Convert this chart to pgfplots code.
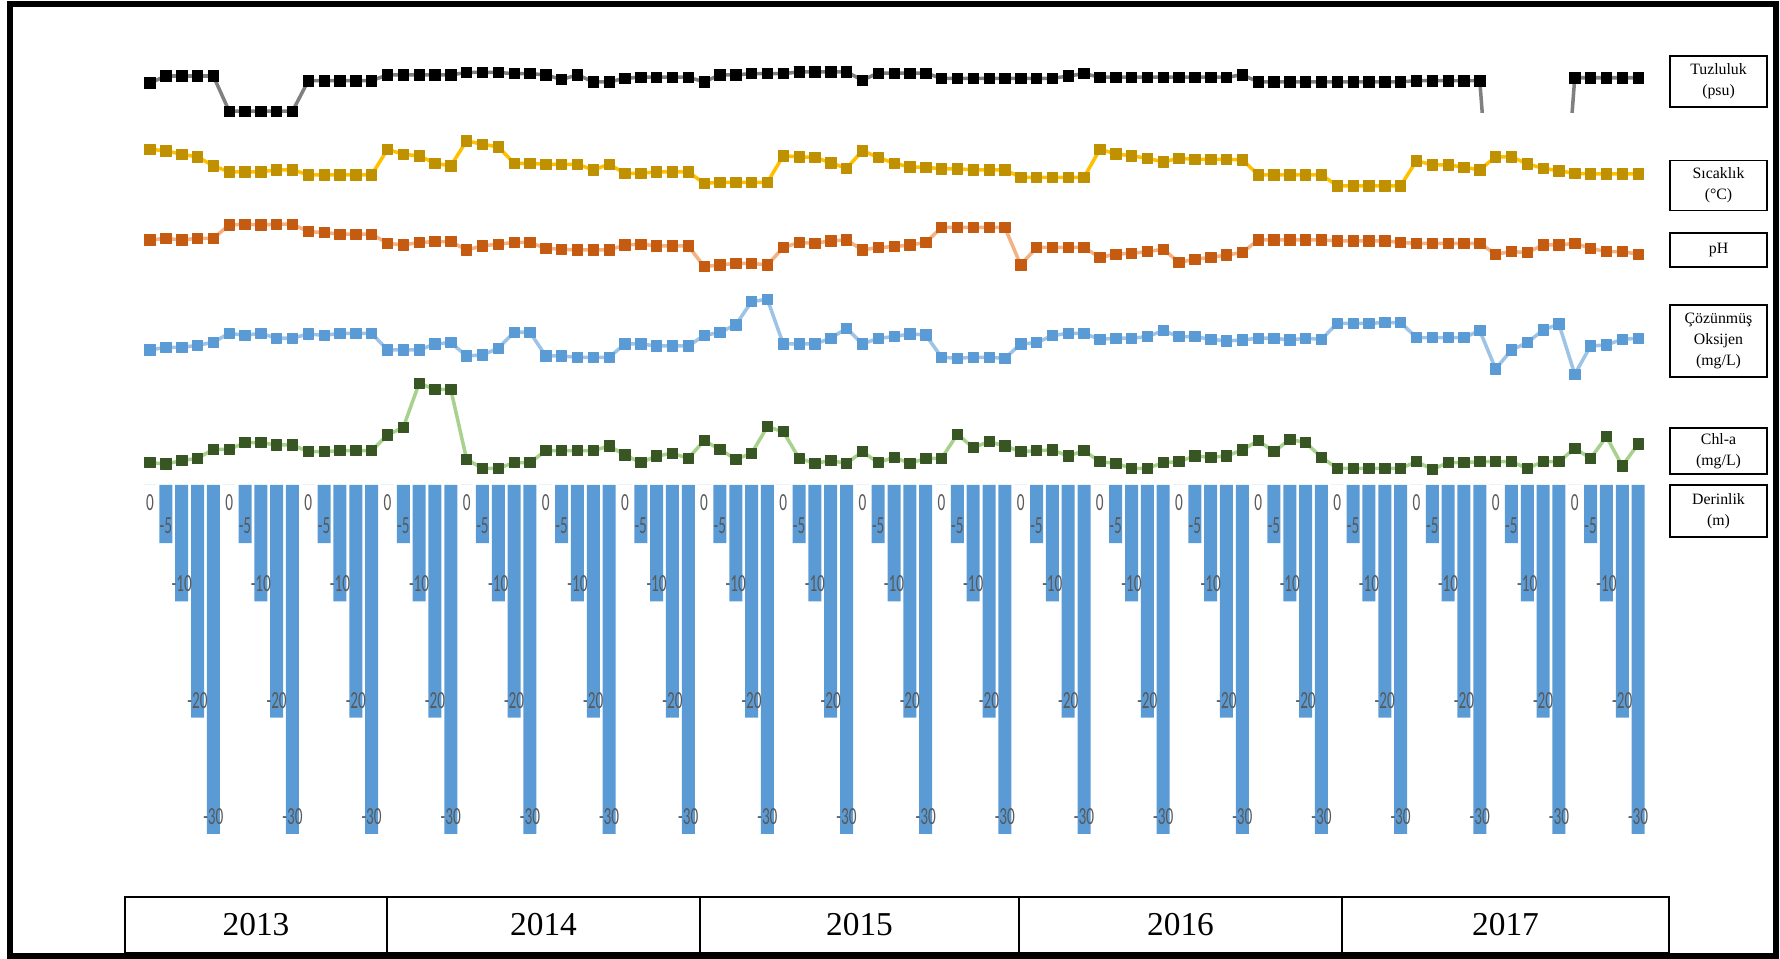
\documentclass[border=0pt]{standalone}
\usepackage{pgfplots}
\pgfplotsset{compat=1.18}
\usepackage{pgfplotstable}
\usepackage{fontspec}
\setmainfont{Liberation Serif}
\newfontfamily\barfont[FakeStretch=0.62]{Carlito}
\definecolor{salline}{HTML}{808080}
\definecolor{tempmark}{HTML}{BF9000}
\definecolor{templine}{HTML}{FFC000}
\definecolor{phmark}{HTML}{C55A11}
\definecolor{phline}{HTML}{F4B183}
\definecolor{domark}{HTML}{5B9BD5}
\definecolor{doline}{HTML}{9DC3E6}
\definecolor{chlmark}{HTML}{375623}
\definecolor{chlline}{HTML}{A9D18E}
\definecolor{barblue}{HTML}{5B9BD5}
\definecolor{labgray}{HTML}{595959}

\pgfplotstableread{
i depth sal temp ph do chl
0 0 17.4 14.8 8.30 7.20 0.42
1 -5 18.0 14.5 8.32 7.40 0.38
2 -10 18.0 13.8 8.30 7.40 0.48
3 -20 18.0 13.3 8.32 7.55 0.55
4 -30 18.0 11.5 8.32 7.78 0.82
5 0 15.0 10.3 8.48 8.45 0.82
6 -5 15.0 10.3 8.49 8.30 1.02
7 -10 15.0 10.3 8.48 8.45 1.02
8 -20 15.0 10.7 8.49 8.08 0.95
9 -30 15.0 10.7 8.49 8.08 0.95
10 0 17.6 9.7 8.40 8.40 0.75
11 -5 17.6 9.7 8.39 8.30 0.75
12 -10 17.6 9.7 8.37 8.45 0.78
13 -20 17.6 9.7 8.37 8.45 0.78
14 -30 17.6 9.7 8.37 8.45 0.78
15 0 18.1 14.8 8.26 7.20 1.25
16 -5 18.1 13.8 8.24 7.20 1.48
17 -10 18.1 13.5 8.27 7.20 2.80
18 -20 18.1 12.0 8.28 7.65 2.62
19 -30 18.1 11.5 8.28 7.75 2.62
20 0 18.3 16.5 8.18 6.75 0.52
21 -5 18.3 15.8 8.23 6.83 0.25
22 -10 18.3 15.3 8.25 7.33 0.25
23 -20 18.2 12.0 8.27 8.53 0.42
24 -30 18.2 12.0 8.27 8.53 0.42
25 0 18.1 11.8 8.20 6.75 0.78
26 -5 17.7 11.8 8.19 6.75 0.78
27 -10 18.1 11.8 8.18 6.65 0.78
28 -20 17.5 10.7 8.18 6.65 0.78
29 -30 17.5 11.8 8.18 6.65 0.92
30 0 17.8 10.0 8.24 7.65 0.65
31 -5 17.9 10.0 8.25 7.65 0.42
32 -10 17.9 10.3 8.23 7.50 0.62
33 -20 17.9 10.3 8.23 7.50 0.70
34 -30 17.9 10.3 8.23 7.50 0.55
35 0 17.5 8.0 7.98 8.28 1.08
36 -5 18.1 8.2 8.00 8.53 0.82
37 -10 18.1 8.2 8.02 9.08 0.52
38 -20 18.2 8.2 8.02 10.83 0.70
39 -30 18.2 8.2 8.00 11.00 1.50
40 0 18.2 13.5 8.21 7.65 1.35
41 -5 18.35 13.3 8.27 7.65 0.55
42 -10 18.35 13.2 8.26 7.65 0.40
43 -20 18.35 12.1 8.29 8.08 0.48
44 -30 18.35 11.0 8.30 8.83 0.40
45 0 17.65 14.5 8.18 7.65 0.75
46 -5 18.25 13.2 8.21 8.08 0.42
47 -10 18.25 12.0 8.22 8.20 0.58
48 -20 18.25 11.3 8.24 8.40 0.40
49 -30 18.25 11.2 8.27 8.33 0.55
50 0 17.8 10.9 8.45 6.65 0.55
51 -5 17.8 10.9 8.45 6.58 1.27
52 -10 17.8 10.7 8.45 6.65 0.87
53 -20 17.8 10.7 8.45 6.65 1.05
54 -30 17.8 10.7 8.45 6.58 0.92
55 0 17.8 9.2 8.00 7.65 0.75
56 -5 17.8 9.2 8.21 7.75 0.78
57 -10 17.8 9.2 8.21 8.28 0.80
58 -20 18.0 9.2 8.21 8.45 0.62
59 -30 18.2 9.2 8.21 8.45 0.78
60 0 17.9 14.8 8.09 8.00 0.45
61 -5 17.9 13.9 8.13 8.08 0.40
62 -10 17.9 13.5 8.14 8.08 0.25
63 -20 17.9 13.0 8.16 8.20 0.25
64 -30 17.9 12.3 8.19 8.65 0.42
65 0 17.9 13.0 8.03 8.20 0.45
66 -5 17.9 12.8 8.07 8.20 0.62
67 -10 17.9 12.8 8.09 8.00 0.58
68 -20 17.9 12.8 8.12 7.88 0.62
69 -30 18.1 12.7 8.15 7.95 0.80
70 0 17.5 9.7 8.30 8.08 1.08
71 -5 17.5 9.7 8.30 8.08 0.75
72 -10 17.5 9.7 8.30 7.95 1.12
73 -20 17.5 9.7 8.30 8.08 1.02
74 -30 17.5 9.7 8.30 8.00 0.58
75 0 17.5 7.5 8.29 9.20 0.25
76 -5 17.5 7.5 8.29 9.20 0.25
77 -10 17.5 7.5 8.29 9.20 0.25
78 -20 17.5 7.5 8.29 9.25 0.25
79 -30 17.5 7.5 8.27 9.25 0.25
80 0 17.6 12.5 8.26 8.13 0.45
81 -5 17.6 11.7 8.26 8.13 0.22
82 -10 17.6 11.7 8.26 8.13 0.42
83 -20 17.6 11.2 8.26 8.13 0.42
84 -30 17.6 10.7 8.26 8.65 0.45
85 0 0 13.3 8.13 5.78 0.45
86 -5 0 13.3 8.16 7.20 0.45
87 -10 0 11.9 8.15 7.75 0.25
88 -20 0 11.0 8.24 8.70 0.45
89 -30 0 10.5 8.24 9.15 0.45
90 0 17.85 10.0 8.26 5.38 0.85
91 -5 17.85 9.9 8.20 7.50 0.55
92 -10 17.85 9.9 8.16 7.58 1.20
93 -20 17.85 9.9 8.16 8.00 0.32
94 -30 17.85 9.9 8.13 8.08 0.98
}\data

\pgfplotsset{
  strip/.style={scale only axis, width=30.078cm, xmin=-0.5, xmax=94.5,
    axis lines=none, ticks=none, enlargelimits=false, anchor=north west},
  ser/.style 2 args={color=#2, line width=2pt, line join=round,
    mark=square*, mark size=2.95pt,
    mark options={solid, draw=#1, fill=#1, line width=0.4pt}},
}

\begin{document}
\begin{tikzpicture}
\useasboundingbox (0,0) rectangle (35.6,19.18);

% Tuzluluk
\begin{axis}[strip, at={(2.842cm,18.08cm)}, height=1.16cm, ymin=14.84, ymax=19.797]
\addplot[salline, line width=2pt, line join=round] table[x=i, y=sal] {\data};
\addplot[only marks, mark=square*, mark size=2.95pt,
  mark options={draw=black, fill=black, line width=0.4pt},
  restrict y to domain=10:30] table[x=i, y=sal] {\data};
\end{axis}

% Sicaklik
\begin{axis}[strip, at={(2.842cm,16.58cm)}, height=1.4cm, ymin=4.6667, ymax=18.6667]
\addplot[ser={tempmark}{templine}] table[x=i, y=temp] {\data};
\end{axis}

% pH
\begin{axis}[strip, at={(2.842cm,14.88cm)}, height=1.2cm, ymin=7.88, ymax=8.6]
\addplot[ser={phmark}{phline}] table[x=i, y=ph] {\data};
\end{axis}

% DO
\begin{axis}[strip, at={(2.842cm,13.38cm)}, height=1.9cm, ymin=4.575, ymax=11.7]
\addplot[ser={domark}{doline}] table[x=i, y=do] {\data};
\end{axis}

% Chl-a
\begin{axis}[strip, at={(2.842cm,11.68cm)}, height=2.0333cm, ymin=0, ymax=3.05]
\addplot[ser={chlmark}{chlline}] table[x=i, y=chl] {\data};
\end{axis}

% Derinlik
\begin{axis}[strip, at={(2.842cm,9.48cm)}, height=6.98cm, ymin=-30, ymax=0, clip=false]
\addplot[ybar, bar width=0.26cm, bar shift=0pt, fill=barblue, draw=none,
  point meta=explicit symbolic,
  visualization depends on={rawy \as \ry},
  nodes near coords={\pgfplotspointmeta},
  every node near coord/.append style={anchor=center, inner sep=0pt,
    font=\barfont\fontsize{14}{14}\selectfont, text=labgray,
    yshift={ifthenelse(\ry<0,9.96,-10.24)}}]
  table[x=i, y=depth, meta=depth] {\data};
\end{axis}

% right-hand labels
\begin{scope}[every node/.style={draw, line width=0.03cm, minimum width=1.94cm,
  align=center, inner sep=0pt, font=\fontsize{9}{12}\selectfont}]
\node[minimum height=1.02cm] at (34.37,17.55) {Tuzluluk\\(psu)};
\node[minimum height=1.0cm] at (34.37,15.47) {Sıcaklık\\(°C)};
\node[minimum height=0.68cm] at (34.37,14.18) {pH};
\node[minimum height=1.44cm] at (34.37,12.36) {Çözünmüş\\Oksijen\\(mg/L)};
\node[minimum height=0.92cm] at (34.37,10.16) {Chl-a\\(mg/L)};
\node[minimum height=1.04cm] at (34.37,8.96) {Derinlik\\(m)};
\end{scope}

% year boxes
\begin{scope}[line width=0.04cm]
\foreach \a/\b/\yr in {2.5/7.74/2013, 7.74/14.0/2014, 14.0/20.38/2015, 20.38/26.84/2016, 26.84/33.38/2017}{
  \draw (\a,0.12) rectangle (\b,1.24);
  \node[font=\fontsize{19}{22}\selectfont] at ({(\a+\b)/2},0.68) {\yr};
}
\end{scope}

% outer frame
\draw[line width=0.12cm] (0.2,0.06) rectangle (35.52,19.1);
\end{tikzpicture}
\end{document}
